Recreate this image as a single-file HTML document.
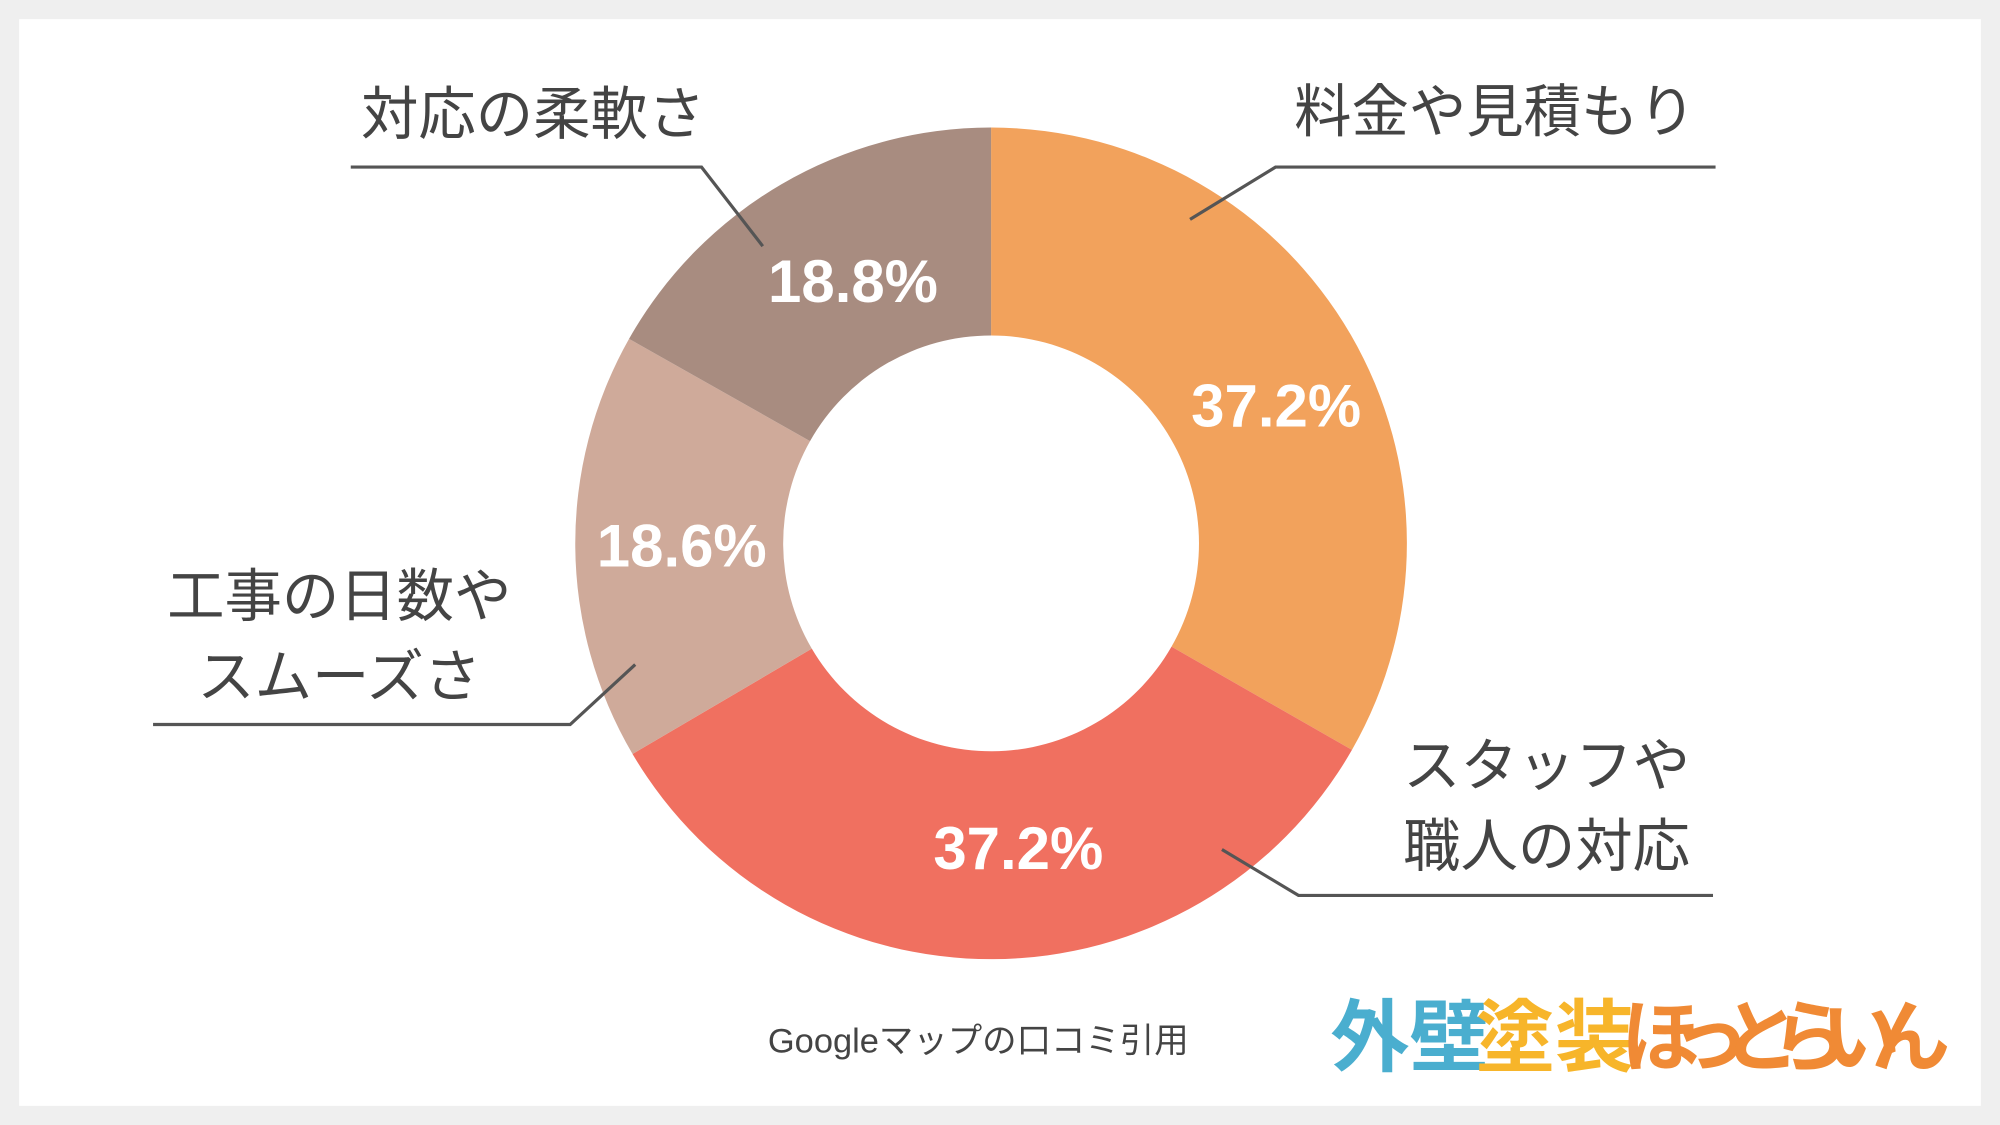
<!DOCTYPE html>
<html><head><meta charset="utf-8"><style>
html,body{margin:0;padding:0;background:#efefef;}
svg{display:block;}
text{font-family:"Liberation Sans","Noto Sans CJK JP",sans-serif;}
</style></head><body>
<svg id="chart" width="2000" height="1125" viewBox="0 0 1568 882" preserveAspectRatio="none" xmlns="http://www.w3.org/2000/svg">
<rect x="0" y="0" width="1568" height="882" fill="#efefef"/>
<rect x="15" y="15" width="1538" height="852" fill="#ffffff"/>
<g id="slices"></g>
<g id="pcts"></g>
<g fill="none" stroke="#555" stroke-width="2.5">
<polyline points="275,131 550,131 598,193"/>
<polyline points="1345,131 1000,131 933,172"/>
<polyline points="120,568 447,568 498,521"/>
<polyline points="1343,702 1018,702 958,666"/>
</g>
<g fill="#444" font-size="45">
<text x="418" y="105" text-anchor="middle">対応の柔軟さ</text>
<text x="1172" y="103" text-anchor="middle">料金や見積もり</text>
<text x="266" y="483" text-anchor="middle">工事の日数や</text>
<text x="266" y="546" text-anchor="middle">スムーズさ</text>
<text x="1325" y="616" text-anchor="end">スタッフや</text>
<text x="1325" y="679" text-anchor="end">職人の対応</text>
</g>
<text x="767" y="825" text-anchor="middle" font-size="27" fill="#444">Googleマップの口コミ引用</text>
<g font-size="62" font-weight="bold">
<text x="1043" y="835" fill="#4aaecf">外壁</text>
<text x="1157" y="835" fill="#f7b52a">塗装</text>
<text x="1271" y="835" fill="#f08a35" textLength="258">ほっとらいん</text>
</g>
</svg>
<script>
const categories = ["料金や見積もり","スタッフや職人の対応","工事の日数やスムーズさ","対応の柔軟さ"];
const values = [37.2, 37.2, 18.6, 18.8];
const valueLabels = ["37.2%","37.2%","18.6%","18.8%"];
const colors = ["#F2A25C","#F07060","#CFAA9A","#A88C80"];
const cx=777, cy=426, R=326, r=163;
const labelShiftX=[12,20,2,15], labelShiftY=[31,11,16,22];
const total = values.reduce((a,b)=>a+b,0);
function pt(a,rad){return [cx+rad*Math.sin(a), cy-rad*Math.cos(a)];}
const sg=document.getElementById('slices'), pg=document.getElementById('pcts');
let start=0;
values.forEach((v,i)=>{
  const sweep=v/total*Math.PI*2, end=start+sweep;
  const [x1,y1]=pt(start,R),[x2,y2]=pt(end,R),[x3,y3]=pt(end,r),[x4,y4]=pt(start,r);
  const lg=sweep>Math.PI?1:0;
  const p=document.createElementNS('http://www.w3.org/2000/svg','path');
  p.setAttribute('d',`M${x1},${y1}A${R},${R} 0 ${lg} 1 ${x2},${y2}L${x3},${y3}A${r},${r} 0 ${lg} 0 ${x4},${y4}Z`);
  p.setAttribute('fill',colors[i]);
  
  
  sg.appendChild(p);
  const mid=start+sweep/2, [tx,ty]=pt(mid,(R+r)/2);
  const t=document.createElementNS('http://www.w3.org/2000/svg','text');
  t.setAttribute('x',tx+labelShiftX[i]); t.setAttribute('y',ty+labelShiftY[i]);
  t.setAttribute('text-anchor','middle'); t.setAttribute('fill','#fff');
  t.setAttribute('font-size','47'); t.setAttribute('font-weight','bold');
  t.textContent=valueLabels[i];
  
  
  pg.appendChild(t);
  start=end;
});
</script>
</body></html>
